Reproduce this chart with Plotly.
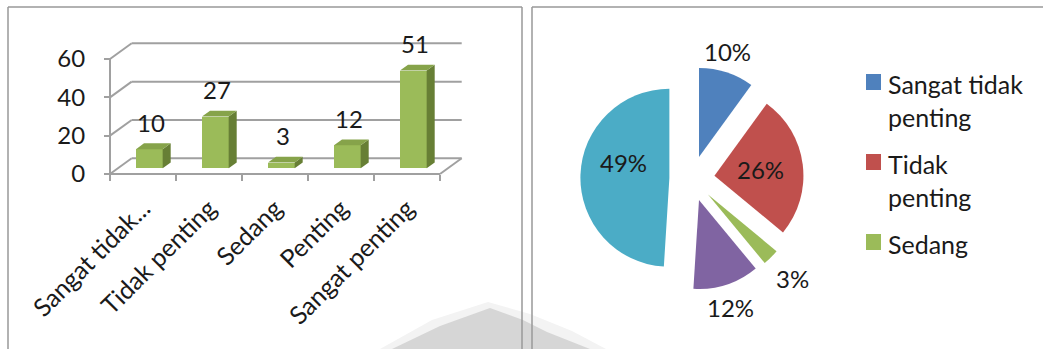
import math
import plotly.graph_objects as go

# ---- data ----
categories = ["Sangat tidak penting", "Tidak penting", "Sedang", "Penting", "Sangat penting"]
axis_labels = ["Sangat tidak...", "Tidak penting", "Sedang", "Penting", "Sangat penting"]
counts = [10, 27, 3, 12, 51]
y_ticks = [0, 20, 40, 60]
pie_percent = [10, 26, 3, 12, 49]
legend_labels = ["Sangat tidak<br>penting", "Tidak<br>penting", "Sedang"]

slice_colors = ["#4F81BD", "#C0504D", "#9BBB59", "#8064A2", "#4BACC6"]
bar_front, bar_top, bar_side = "#9BBB59", "#86A34A", "#677F35"
grid_color = "#A0A0A0"
text_color = "#1A1A1A"
FONT = "Lato"

W, H = 1043, 349


def px(x):
    return x / W


def py(y):
    return 1 - y / H


# ---- bar chart geometry (pixels) ----
AX_LEFT = 110        # x of the front-left corner of the floor
CAT_W = 66           # width of one category
AX_BASE = 174        # y of the front edge of the floor
UNIT = 115 / 60      # pixels per count unit
X_DOM = (95, 490)
Y_DOM = (20, 196)
x_range = [(X_DOM[0] - AX_LEFT) / CAT_W - 0.5, (X_DOM[1] - AX_LEFT) / CAT_W - 0.5]
y_range = [(AX_BASE - Y_DOM[1]) / UNIT, (AX_BASE - Y_DOM[0]) / UNIT]

# depth of the 3D box in data units
DX = 21.7 / CAT_W
DY = 15.7 / UNIT
BAR_Z0, BAR_Z = 0.36, 0.37      # bar front position / thickness as fraction of depth
BAR_W = 0.404
BAR_OFF = 0.096
bar_base = BAR_Z0 * DY
ddx, ddy = BAR_Z * DX, BAR_Z * DY

n = len(counts)
bar_x = [i + BAR_OFF for i in range(n)]

fig = go.Figure()
fig.add_trace(go.Bar(
    x=bar_x, y=counts, base=[bar_base] * n, width=BAR_W,
    marker=dict(color=bar_front, line=dict(width=0)),
    xaxis="x", yaxis="y", showlegend=False, hoverinfo="skip",
))

shapes = []
line_style = dict(color=grid_color, width=2)
x_lo, x_hi = -0.5, n - 0.5

# back wall gridlines and side wall diagonals
for v in y_ticks:
    shapes.append(dict(type="line", xref="x", yref="y", layer="below",
                       x0=x_lo + DX, x1=x_hi + DX, y0=v + DY, y1=v + DY, line=line_style))
    shapes.append(dict(type="line", xref="x", yref="y", layer="below",
                       x0=x_lo, x1=x_lo + DX, y0=v, y1=v + DY, line=line_style))
# front vertical axis, floor front edge and floor right edge
shapes.append(dict(type="line", xref="x", yref="y", layer="below",
                   x0=x_lo, x1=x_lo, y0=0, y1=max(y_ticks), line=line_style))
shapes.append(dict(type="line", xref="x", yref="y", layer="below",
                   x0=x_lo, x1=x_hi, y0=0, y1=0, line=line_style))
shapes.append(dict(type="line", xref="x", yref="y", layer="below",
                   x0=x_hi, x1=x_hi + DX, y0=0, y1=DY, line=line_style))

# side and top faces of the bars
for xc, v in zip(bar_x, counts):
    xl, xr = xc - BAR_W / 2, xc + BAR_W / 2
    b, t = bar_base, bar_base + v
    side = f"M{xr},{b} L{xr},{t} L{xr + ddx},{t + ddy} L{xr + ddx},{b + ddy} Z"
    top = f"M{xl},{t} L{xr},{t} L{xr + ddx},{t + ddy} L{xl + ddx},{t + ddy} Z"
    shapes.append(dict(type="path", xref="x", yref="y", path=side,
                       fillcolor=bar_side, line=dict(width=0)))
    shapes.append(dict(type="path", xref="x", yref="y", path=top,
                       fillcolor=bar_top, line=dict(width=0)))

annotations = []
for xc, v in zip(bar_x, counts):
    annotations.append(dict(x=xc + 0.02, y=bar_base + v, xref="x", yref="y",
                            text=str(v), showarrow=False, yanchor="middle", yshift=27,
                            font=dict(family=FONT, size=24, color=text_color)))

# ---- pie chart ----
PIE_CX, PIE_CY, PIE_R, PULL = 692, 178.5, 89, 0.254
half = PIE_R * (1 + PULL)
fig.add_trace(go.Pie(
    labels=categories, values=pie_percent, sort=False, direction="clockwise",
    rotation=0, pull=[PULL] * n,
    marker=dict(colors=slice_colors, line=dict(width=0)),
    textinfo="none",
    domain=dict(x=[px(PIE_CX - half), px(PIE_CX + half)],
                y=[py(PIE_CY + half), py(PIE_CY - half)]),
    automargin=False,
    showlegend=False, hoverinfo="skip",
))

# percentage labels placed along each slice's mid-angle
label_dist = [1.23, 0.52, 1.34, 1.26, 0.55]     # distance from the slice tip, in radii
label_turn = [-3, 0, 0, 1.5, 17]                 # small angular nudge, degrees
total = sum(pie_percent)
start = 0.0
for p, dist, turn in zip(pie_percent, label_dist, label_turn):
    sweep = 360.0 * p / total
    mid = math.radians(start + sweep / 2)
    lab = math.radians(start + sweep / 2 + turn)
    tip_x = PIE_CX + PULL * PIE_R * math.sin(mid)
    tip_y = PIE_CY - PULL * PIE_R * math.cos(mid)
    lx = tip_x + dist * PIE_R * math.sin(lab)
    ly = tip_y - dist * PIE_R * math.cos(lab)
    annotations.append(dict(x=px(lx), y=py(ly), xref="paper", yref="paper",
                            text=f"{p}%", showarrow=False,
                            xanchor="center", yanchor="middle",
                            font=dict(family=FONT, size=24, color=text_color)))
    start += sweep

# legend (first three entries)
leg_rows = [74, 154, 234]
for lab, col, top in zip(legend_labels, slice_colors, leg_rows):
    shapes.append(dict(type="rect", xref="paper", yref="paper",
                       x0=px(866), x1=px(881), y0=py(top + 16), y1=py(top),
                       fillcolor=col, line=dict(width=0)))
    annotations.append(dict(x=px(886), y=py(top - 7), xref="paper", yref="paper",
                            text=lab, showarrow=False, xanchor="left", yanchor="top",
                            align="left",
                            font=dict(family=FONT, size=25, color=text_color)))

# watermark fragment at the bottom
halo = [(380, 349), (432, 320), (488, 302), (530, 314), (572, 331), (606, 349)]
mark = [(392, 349), (440, 326), (490, 308), (523, 320), (547, 332), (590, 349)]
for pts, col in ((halo, "#F3F3F3"), (mark, "#D6D6D6")):
    path = "M" + " L".join(f"{px(x)},{py(y)}" for x, y in pts) + " Z"
    shapes.append(dict(type="path", xref="paper", yref="paper", path=path,
                       fillcolor=col, line=dict(width=0), layer="below"))

# panel borders
border = dict(color="#999999", width=1.5)
for x0, y0, x1, y1 in [(8, 7, 522, 7), (8, 7, 8, 349), (522, 7, 522, 349),
                       (532, 7, 1043, 7), (532, 7, 532, 349)]:
    shapes.append(dict(type="line", xref="paper", yref="paper",
                       x0=px(x0), y0=py(y0), x1=px(x1), y1=py(y1), line=border))

fig.update_layout(
    width=W, height=H, autosize=False,
    margin=dict(l=0, r=0, t=0, b=0, autoexpand=False),
    paper_bgcolor="white", plot_bgcolor="rgba(0,0,0,0)",
    showlegend=False,
    xaxis=dict(domain=[px(X_DOM[0]), px(X_DOM[1])], range=x_range,
               anchor="free", position=py(AX_BASE), automargin=False,
               tickmode="array", tickvals=list(range(n)), ticktext=axis_labels,
               ticks="", tickangle=-45, ticklabelstandoff=14,
               showgrid=False, zeroline=False, showline=False,
               tickfont=dict(family=FONT, size=25, color=text_color),
               minor=dict(tickmode="array", tickvals=[i - 0.5 for i in range(n + 1)],
                          ticks="outside", ticklen=6, tickwidth=2, tickcolor=grid_color,
                          showgrid=False)),
    yaxis=dict(domain=[py(Y_DOM[1]), py(Y_DOM[0])], range=y_range,
               anchor="free", position=px(AX_LEFT), automargin=False,
               tickmode="array", tickvals=y_ticks, ticks="outside", ticklen=6,
               tickwidth=2, tickcolor=grid_color, ticklabelstandoff=14,
               showgrid=False, zeroline=False, showline=False,
               tickfont=dict(family=FONT, size=24, color=text_color)),
    shapes=shapes, annotations=annotations,
    bargap=0,
)

fig.write_html("out.html")
